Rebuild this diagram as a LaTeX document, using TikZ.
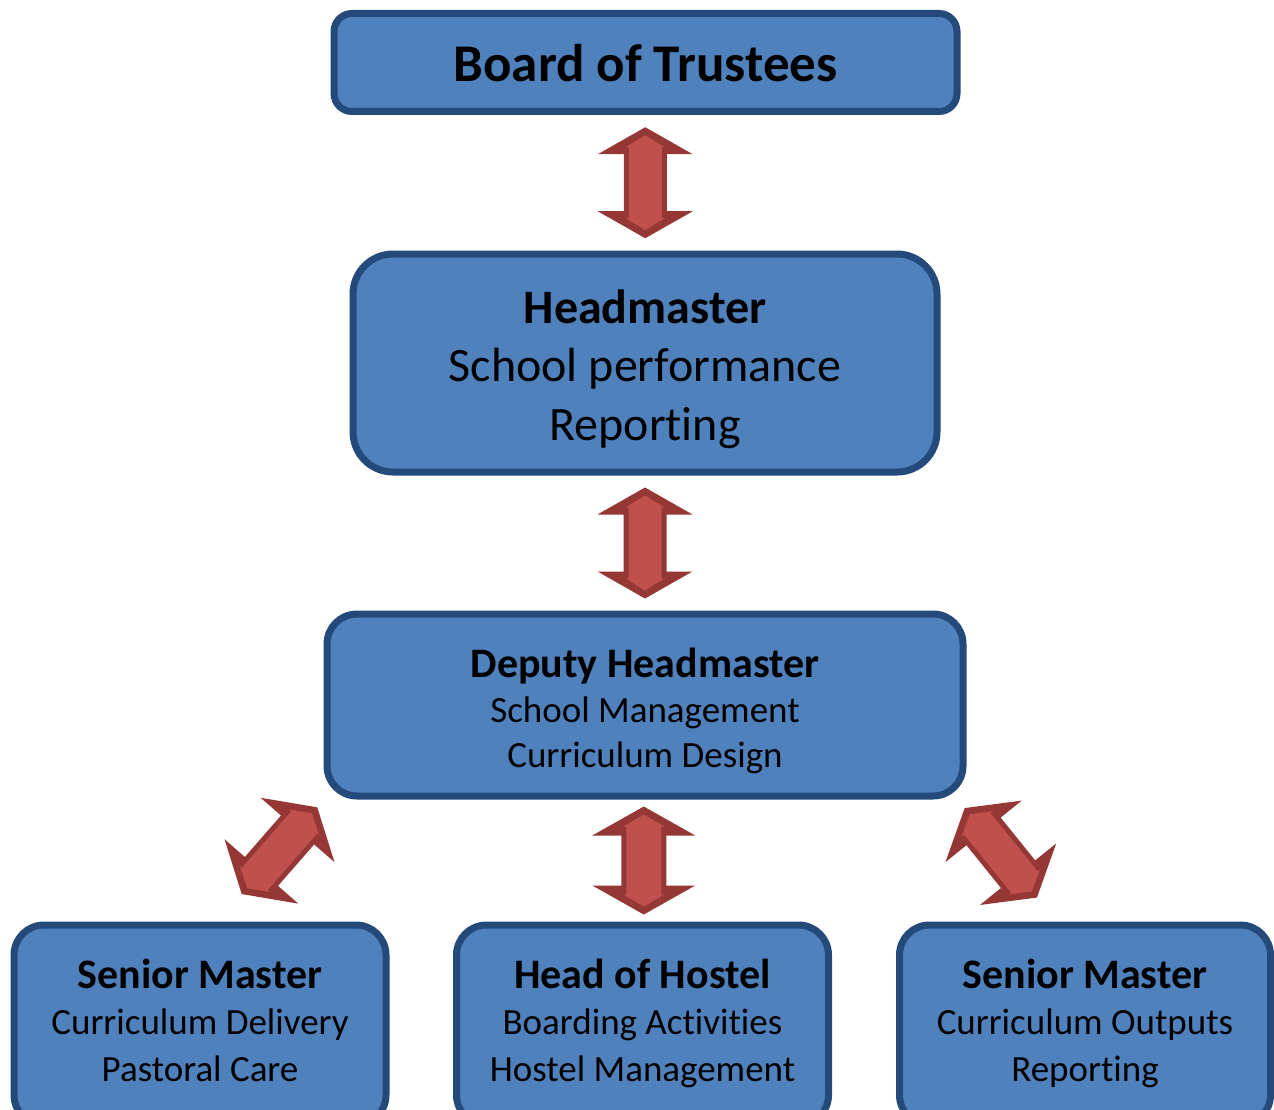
\documentclass[tikz,border=0pt]{standalone}
\usepackage{fontspec}
\setmainfont{Carlito}[Ligatures={NoCommon,NoContextual}]
\usetikzlibrary{calc}
\definecolor{boxfill}{HTML}{4F81BD}
\definecolor{boxline}{HTML}{244A7C}
\definecolor{arrdark}{HTML}{953735}
\definecolor{arrlight}{HTML}{C0504D}
% #1 transform options, #2 half length, #3 head length, #4 head half width, #5 shaft half width
\newcommand{\DblArr}[5]{%
  \pgfmathsetmacro{\aL}{#2}\pgfmathsetmacro{\aH}{#3}%
  \pgfmathsetmacro{\aW}{#4}\pgfmathsetmacro{\aS}{#5}%
  \pgfmathsetmacro{\aB}{\aL-\aH}%
  \fill[arrdark,#1] (\aL,0) -- (\aB,\aW) -- (\aB,\aS) -- (-\aB,\aS) -- (-\aB,\aW) -- (-\aL,0)
     -- (-\aB,-\aW) -- (-\aB,-\aS) -- (\aB,-\aS) -- (\aB,-\aW) -- cycle;
  \pgfmathsetmacro{\bL}{\aL-8}\pgfmathsetmacro{\bB}{\bL-12}%
  \pgfmathsetmacro{\bW}{\aS-2}\pgfmathsetmacro{\bS}{\aS-5}%
  \fill[arrlight,#1] (\bL,0) -- (\bB,\bW) -- (\bB,\bS) -- (-\bB,\bS) -- (-\bB,\bW) -- (-\bL,0)
     -- (-\bB,-\bW) -- (-\bB,-\bS) -- (\bB,-\bS) -- (\bB,-\bW) -- cycle;
}
\begin{document}
\begin{tikzpicture}[x=1pt,y=1pt,
  box/.style={draw=boxline, fill=boxfill, line width=7pt, inner sep=0pt, outer sep=0pt},
  txt/.style={align=center, inner sep=0pt, text=black}]
\clip (0,0) rectangle (1274,-1110);
% boxes
\node[box, rounded corners=18pt, minimum width=623pt, minimum height=98pt] (board) at (645.5,-62.5) {};
\node[box, rounded corners=40pt, minimum width=584pt, minimum height=218pt] (head) at (645,-363) {};
\node[box, rounded corners=30pt, minimum width=636pt, minimum height=182pt] (dep) at (645,-705) {};
\node[box, rounded corners=30pt, minimum width=372pt, minimum height=200pt] (sm1) at (200,-1025) {};
\node[box, rounded corners=30pt, minimum width=372pt, minimum height=200pt] (hoh) at (642.5,-1025) {};
\node[box, rounded corners=30pt, minimum width=371pt, minimum height=200pt] (sm2) at (1085,-1025) {};
% texts
\node[txt, font=\fontsize{53}{64}\selectfont\bfseries] (boardT) at ([yshift=-6.7pt]board.center) {\strut Board of Trustees};
\node[txt, font=\fontsize{48}{58.5}\selectfont] (headT) at ([yshift=-6.8pt]head.center)
  {{\bfseries\strut Headmaster}\\School performance\\Reporting\strut};
\node[txt, font=\fontsize{37}{45}\selectfont] (depT) at ([yshift=-8pt]dep.center)
  {{\fontsize{42}{45}\selectfont\bfseries\strut Deputy Headmaster}\\School Management\\Curriculum Design\strut};
\node[txt, font=\fontsize{37}{46.5}\selectfont] (sm1T) at ([yshift=-100.2pt]sm1.north)
  {{\fontsize{42}{46.5}\selectfont\bfseries\strut Senior Master}\\Curriculum Delivery\\Pastoral Care\strut};
\node[txt, font=\fontsize{37}{46.5}\selectfont] (hohT) at ([yshift=-100.2pt]hoh.north)
  {{\fontsize{42}{46.5}\selectfont\bfseries\strut Head of Hostel}\\Boarding Activities\\Hostel Management\strut};
\node[txt, font=\fontsize{37}{46.5}\selectfont] (sm2T) at ([yshift=-100.2pt]sm2.north)
  {{\fontsize{42}{46.5}\selectfont\bfseries\strut Senior Master}\\Curriculum Outputs\\Reporting\strut};
% connectors (block double arrows)
\coordinate (c1) at ($(board.south)!0.5!(head.north)$);
\coordinate (c2) at ($(head.south)!0.5!(dep.north)$);
\coordinate (c3) at ($(dep.south)!0.5!(hoh.north)$);
\coordinate (c4) at (279.5,-850.7);
\coordinate (c5) at (1000.8,-852.8);
\DblArr{shift={(c1)},rotate=90}{55.5}{27}{47.5}{21.5}
\DblArr{shift={(c2)},rotate=90}{55.5}{27}{47.5}{21.5}
\DblArr{shift={(c3)},rotate=90}{54}{29}{51.5}{22.5}
\DblArr{shift={(c4)},rotate=48.9}{57.5}{30}{49}{22}
\DblArr{shift={(c5)},rotate=-51.1}{57.5}{30}{49}{22}
\end{tikzpicture}
\end{document}
